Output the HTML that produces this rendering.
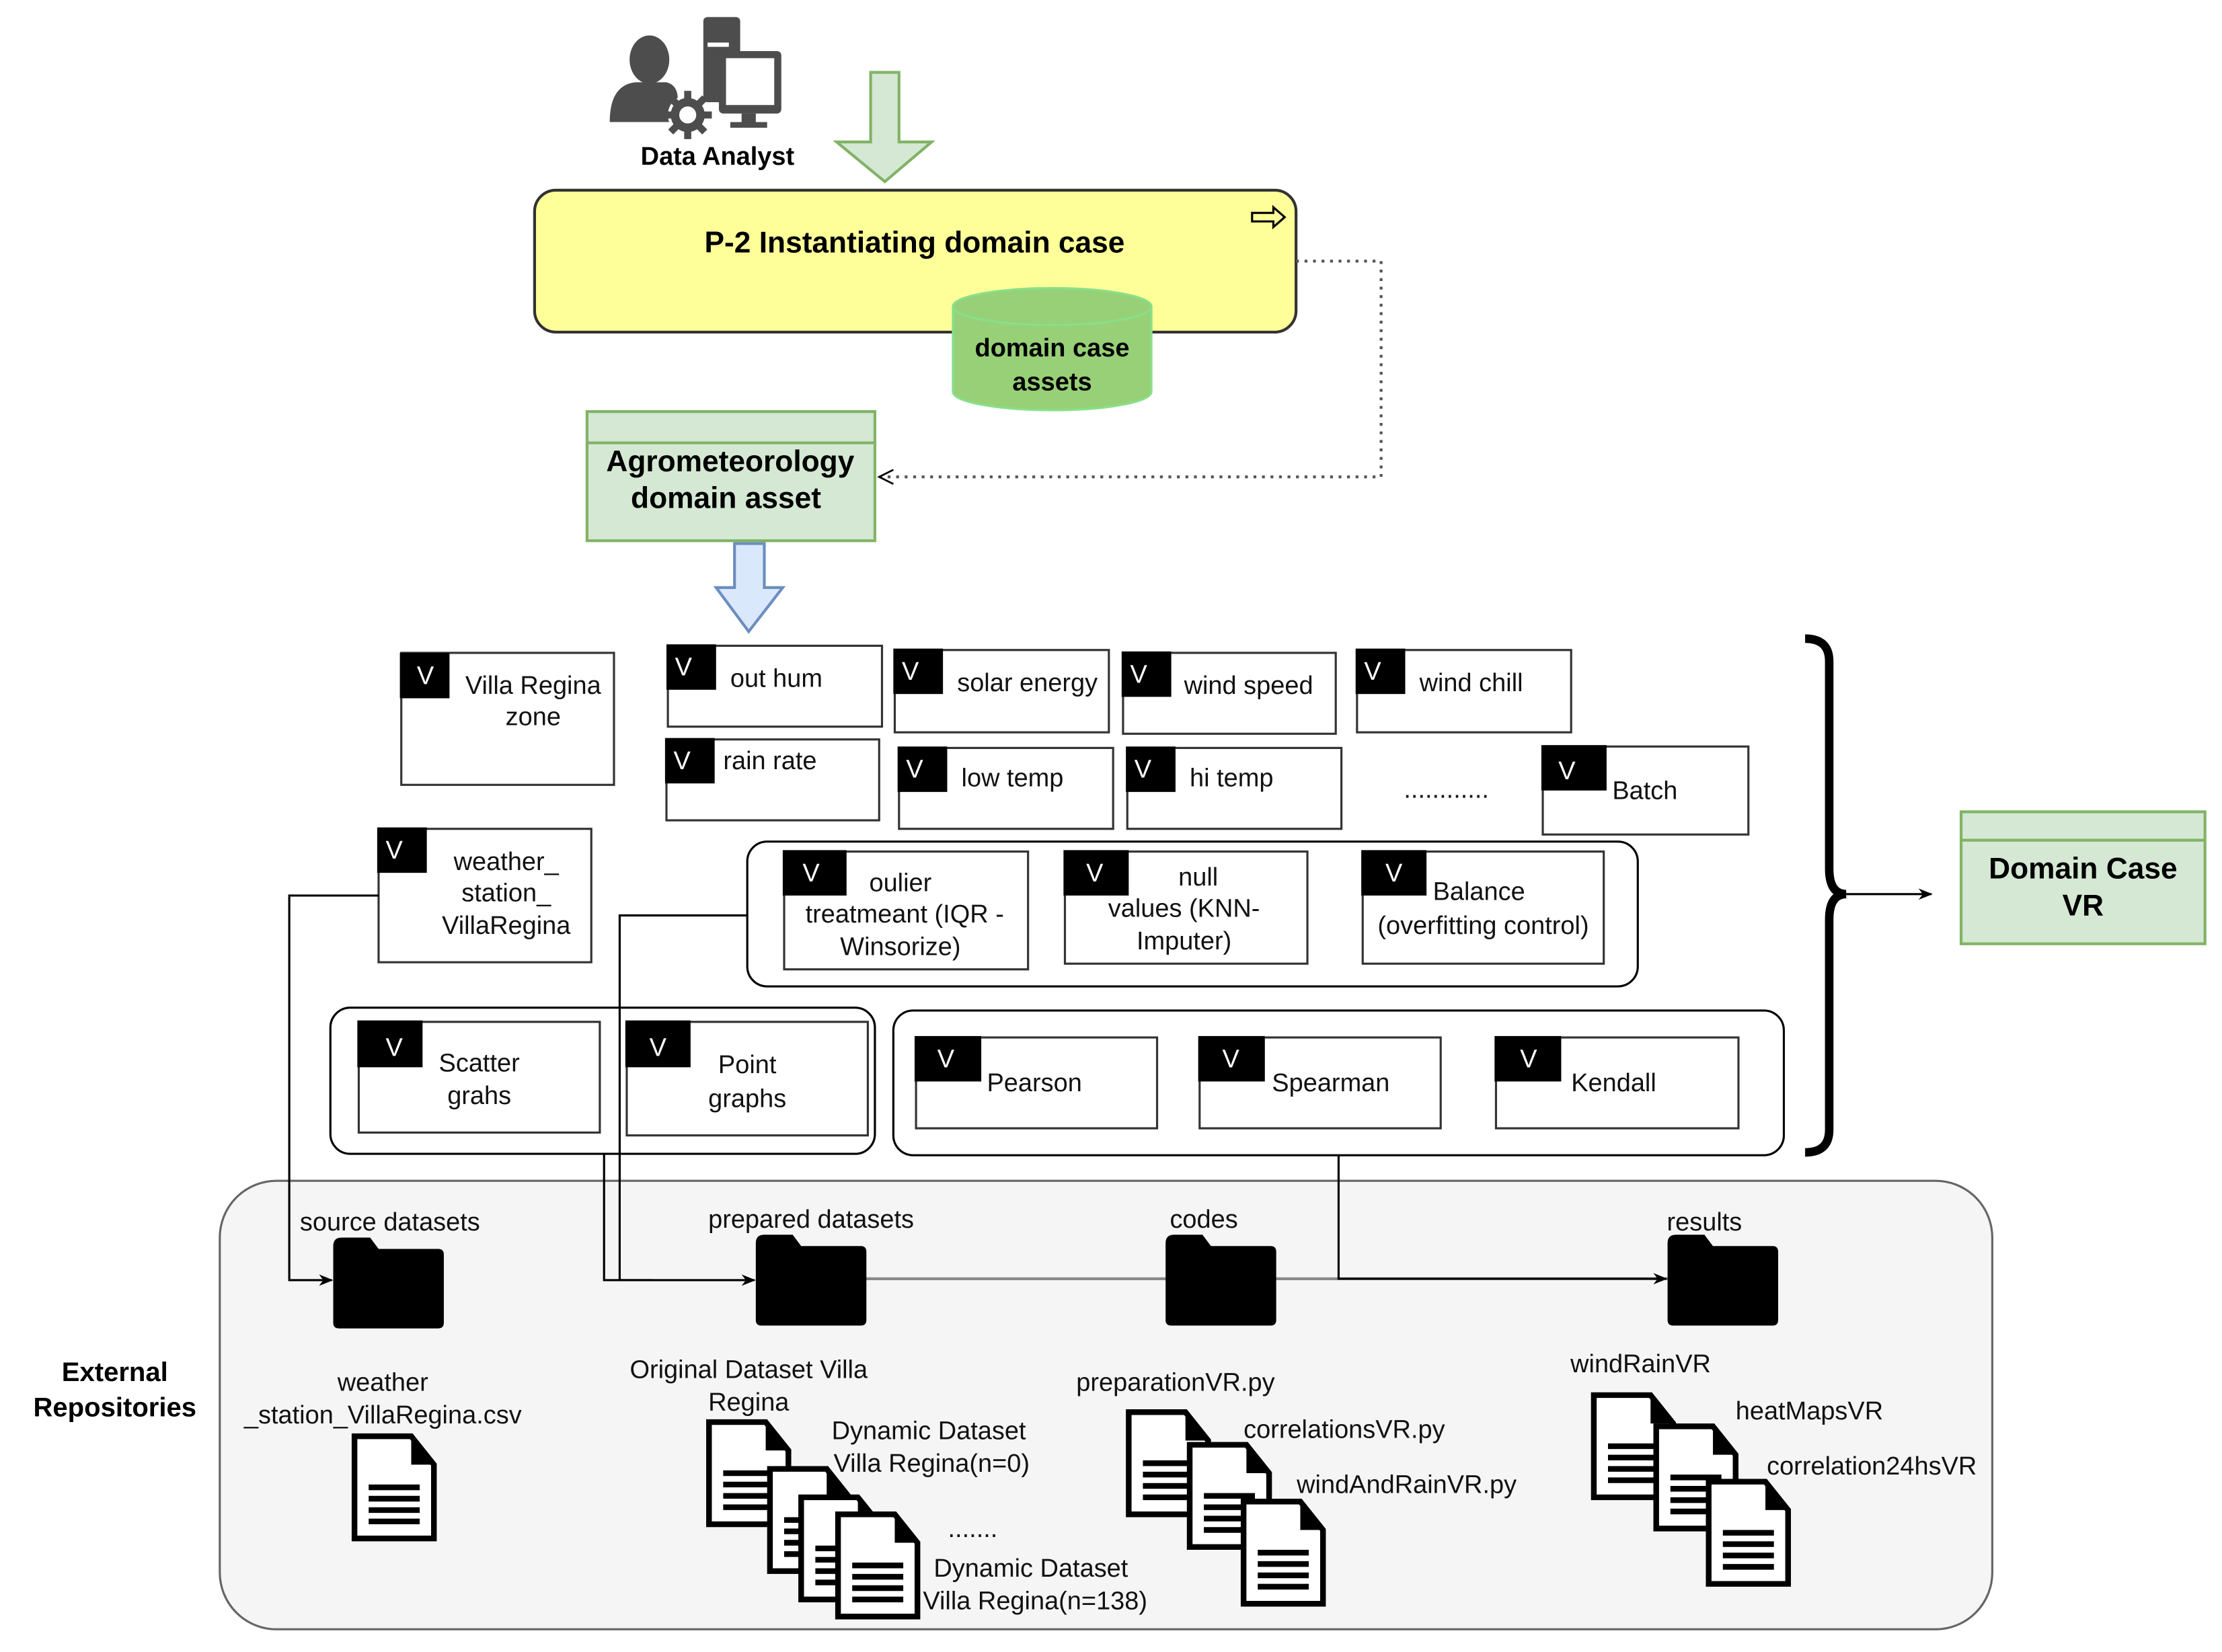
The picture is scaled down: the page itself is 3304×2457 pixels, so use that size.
<!DOCTYPE html>
<html><head><meta charset="utf-8"><style>html,body{margin:0;padding:0;background:#fff}svg{display:block}text{font-family:"Liberation Sans",sans-serif}</style></head><body>
<svg width="3304" height="2457" viewBox="0 0 1567 1164" preserveAspectRatio="none" xmlns="http://www.w3.org/2000/svg">
<defs>
<symbol id="doc" viewBox="0 0 60 76" overflow="visible">
<path d="M2,2 H42 L58,22 V74 H2 Z" fill="#fff" stroke="#000" stroke-width="4"/>
<path d="M42,2 L58,22 H42 Z" fill="#000"/>
<g stroke="#000" stroke-width="4"><line x1="12" y1="38" x2="48" y2="38"/><line x1="12" y1="46" x2="48" y2="46"/><line x1="12" y1="54" x2="48" y2="54"/><line x1="12" y1="62" x2="48" y2="62"/></g>
</symbol>
<symbol id="folder" viewBox="0 0 78 66" overflow="visible">
<path d="M0,8 Q0,2 6,2 H26 L32,10 H74 Q78,10 78,14 V62 Q78,66 74,66 H4 Q0,66 0,62 Z" fill="#000"/>
</symbol>
<marker id="ar" markerWidth="10" markerHeight="10" refX="9" refY="5" orient="auto" markerUnits="userSpaceOnUse"><path d="M0,1 L10,5 L0,9 L3,5 Z" fill="#000"/></marker>
</defs>

<g fill="#4d4d4d">
<ellipse cx="458" cy="42" rx="14" ry="17"/>
<path d="M430,86 Q430,60 448,58 H470 Q478,60 478,70 V86 Z"/>
<rect x="496" y="12" width="26" height="60" rx="3"/>
<rect x="507" y="36" width="44" height="44" rx="3"/>
<rect x="512" y="41" width="34" height="33" fill="#fff"/>
<rect x="523" y="80" width="10" height="7"/><rect x="515" y="86" width="26" height="4"/>
<circle cx="485" cy="81" r="14" fill="#fff"/>
<g stroke="#4d4d4d" stroke-width="5">
<line x1="485" y1="64" x2="485" y2="98"/><line x1="468" y1="81" x2="502" y2="81"/>
<line x1="473" y1="69" x2="497" y2="93"/><line x1="497" y1="69" x2="473" y2="93"/>
</g>
<circle cx="485" cy="81" r="12"/>
<circle cx="485" cy="81" r="6" fill="#fff"/>
</g>
<rect x="499" y="30" width="15" height="3" fill="#fff"/>
<text x="506" y="116" font-size="18" font-weight="bold" text-anchor="middle">Data Analyst</text>

<path d="M614,51 H634 V100 H657 L624,128 L590,100 H614 Z" fill="#d5e8d4" stroke="#82b366" stroke-width="2"/>

<rect x="377" y="134" width="537" height="100" rx="15" fill="#ffff99" stroke="#333" stroke-width="2"/>
<text x="645" y="178" font-size="21" font-weight="bold" text-anchor="middle">P-2 Instantiating domain case</text>
<path d="M883,150 H898 V146 L906,153 L898,160 V156 H883 Z" fill="#ffff99" stroke="#000" stroke-width="1.5"/>

<path d="M672,216 V276 A70,13 0 0 0 812,276 V216" fill="#97d077" stroke="#88e088" stroke-width="1.5"/>
<ellipse cx="742" cy="216" rx="70" ry="13" fill="#97d077" stroke="#88e088" stroke-width="1.5"/>
<text x="742" y="251" font-size="18" font-weight="bold" text-anchor="middle">domain case</text>
<text x="742" y="275" font-size="18" font-weight="bold" text-anchor="middle">assets</text>

<rect x="414" y="290" width="203" height="91" fill="#d5e8d4" stroke="#82b366" stroke-width="2"/>
<line x1="414" y1="312" x2="617" y2="312" stroke="#82b366" stroke-width="2"/>
<text x="515" y="332" font-size="21" font-weight="bold" text-anchor="middle">Agrometeorology</text>
<text x="512" y="358" font-size="21" font-weight="bold" text-anchor="middle">domain asset</text>

<path d="M914,184 H974 V336 H621" fill="none" stroke="#555" stroke-width="2" stroke-dasharray="2,4"/>
<path d="M630,331 L620,336 L630,341" fill="none" stroke="#000" stroke-width="1.3"/>

<path d="M518,383 H539 V414 H552 L528,445 L505,414 H518 Z" fill="#dae8fc" stroke="#6c8ebf" stroke-width="2"/>

<rect x="527" y="593" width="628" height="102" rx="14" fill="#fff" stroke="#000" stroke-width="1.5"/>
<rect x="233" y="710" width="384" height="103" rx="14" fill="#fff" stroke="#000" stroke-width="1.5"/>
<rect x="630" y="712" width="628" height="102" rx="14" fill="#fff" stroke="#000" stroke-width="1.5"/>

<g font-size="18">
<g fill="#fff" stroke="#333" stroke-width="1.5">
<rect x="283" y="460" width="150" height="93"/>
<rect x="471" y="455" width="151" height="57"/>
<rect x="470" y="521" width="150" height="57"/>
<rect x="631" y="458" width="151" height="58"/>
<rect x="792" y="460" width="150" height="57"/>
<rect x="957" y="458" width="151" height="58"/>
<rect x="634" y="527" width="151" height="57"/>
<rect x="795" y="527" width="151" height="57"/>
<rect x="1088" y="526" width="145" height="62"/>
<rect x="267" y="584" width="150" height="94"/>
<rect x="553" y="600" width="172" height="83"/>
<rect x="751" y="600" width="171" height="79"/>
<rect x="961" y="600" width="170" height="79"/>
<rect x="253" y="720" width="170" height="78"/>
<rect x="442" y="720" width="170" height="80"/>
<rect x="646" y="731" width="170" height="64"/>
<rect x="846" y="731" width="170" height="64"/>
<rect x="1055" y="731" width="171" height="64"/>
</g>
<g fill="#000">
<rect x="282" y="460" width="35" height="32"/>
<rect x="470" y="454" width="35" height="32"/>
<rect x="469" y="520" width="35" height="32"/>
<rect x="630" y="457" width="35" height="32"/>
<rect x="791" y="459" width="35" height="32"/>
<rect x="956" y="457" width="35" height="32"/>
<rect x="633" y="526" width="35" height="32"/>
<rect x="794" y="526" width="35" height="32"/>
<rect x="1087" y="525" width="46" height="32"/>
<rect x="266" y="583" width="35" height="32"/>
<rect x="552" y="599" width="45" height="32"/>
<rect x="750" y="599" width="46" height="32"/>
<rect x="960" y="599" width="46" height="32"/>
<rect x="252" y="719" width="46" height="33"/>
<rect x="441" y="719" width="46" height="33"/>
<rect x="645" y="730" width="47" height="32"/>
<rect x="845" y="730" width="47" height="32"/>
<rect x="1054" y="730" width="47" height="32"/>
</g>
<g fill="#fff">
<text x="294" y="482">V</text><text x="476" y="476">V</text><text x="475" y="542">V</text>
<text x="636" y="479">V</text><text x="797" y="481">V</text><text x="962" y="479">V</text>
<text x="639" y="548">V</text><text x="800" y="548">V</text><text x="1099" y="549">V</text>
<text x="272" y="605">V</text><text x="566" y="621">V</text><text x="766" y="621">V</text>
<text x="977" y="621">V</text><text x="272" y="744">V</text><text x="458" y="744">V</text>
<text x="661" y="752">V</text><text x="862" y="752">V</text><text x="1072" y="752">V</text>
</g>
<g fill="#111">
<text x="376" y="489" text-anchor="middle">Villa Regina</text><text x="376" y="511" text-anchor="middle">zone</text>
<text x="515" y="484">out hum</text>
<text x="510" y="542">rain rate</text>
<text x="675" y="487">solar energy</text>
<text x="835" y="489">wind speed</text>
<text x="1001" y="487">wind chill</text>
<text x="678" y="554">low temp</text>
<text x="839" y="554">hi temp</text>
<text x="1020" y="562" text-anchor="middle">............</text>
<text x="1137" y="563">Batch</text>
<text x="357" y="613" text-anchor="middle">weather_</text><text x="357" y="635" text-anchor="middle">station_</text><text x="357" y="658" text-anchor="middle">VillaRegina</text>
<text x="635" y="628" text-anchor="middle">oulier</text><text x="638" y="650" text-anchor="middle">treatmeant (IQR -</text><text x="635" y="673" text-anchor="middle">Winsorize)</text>
<text x="845" y="624" text-anchor="middle">null</text><text x="835" y="646" text-anchor="middle">values (KNN-</text><text x="835" y="669" text-anchor="middle">Imputer)</text>
<text x="1043" y="634" text-anchor="middle">Balance</text><text x="1046" y="658" text-anchor="middle">(overfitting control)</text>
<text x="338" y="755" text-anchor="middle">Scatter</text><text x="338" y="778" text-anchor="middle">grahs</text>
<text x="527" y="756" text-anchor="middle">Point</text><text x="527" y="780" text-anchor="middle">graphs</text>
<text x="696" y="769">Pearson</text>
<text x="897" y="769">Spearman</text>
<text x="1108" y="769">Kendall</text>
</g>
</g>

<path d="M1273,450 Q1290,450 1290,466 V612 Q1290,630 1302,630 Q1290,630 1290,648 V796 Q1290,812 1273,812" fill="none" stroke="#000" stroke-width="6"/>
<line x1="1302" y1="630" x2="1362" y2="630" stroke="#000" stroke-width="1.5" marker-end="url(#ar)"/>

<rect x="1383" y="572" width="172" height="93" fill="#d5e8d4" stroke="#82b366" stroke-width="2"/>
<line x1="1383" y1="592" x2="1555" y2="592" stroke="#82b366" stroke-width="2"/>
<text x="1469" y="619" font-size="21" font-weight="bold" text-anchor="middle">Domain Case</text>
<text x="1469" y="645" font-size="21" font-weight="bold" text-anchor="middle">VR</text>

<rect x="155" y="832" width="1250" height="316" rx="40" fill="#f5f5f5" stroke="#666" stroke-width="1.5"/>
<text x="81" y="973" font-size="19" font-weight="bold" text-anchor="middle">External</text>
<text x="81" y="998" font-size="19" font-weight="bold" text-anchor="middle">Repositories</text>

<line x1="610" y1="901" x2="1176" y2="901" stroke="#888" stroke-width="2"/>

<g fill="none" stroke="#000" stroke-width="1.5">
<path d="M267,631 H204 V902 H234" marker-end="url(#ar)"/>
<path d="M527,645 H437 V902 H532" marker-end="url(#ar)"/>
<path d="M426,813 V902 H460"/>
<path d="M944,814 V901 H1175" marker-end="url(#ar)"/>
</g>

<use href="#folder" x="235" y="870" width="78" height="66"/>
<use href="#folder" x="533" y="868" width="78" height="66"/>
<use href="#folder" x="822" y="868" width="78" height="66"/>
<use href="#folder" x="1176" y="868" width="78" height="66"/>

<g font-size="18" fill="#111">
<text x="275" y="867" text-anchor="middle">source datasets</text>
<text x="572" y="865" text-anchor="middle">prepared datasets</text>
<text x="849" y="865" text-anchor="middle">codes</text>
<text x="1202" y="867" text-anchor="middle">results</text>
<text x="270" y="980" text-anchor="middle">weather</text>
<text x="270" y="1003" text-anchor="middle">_station_VillaRegina.csv</text>
<text x="528" y="971" text-anchor="middle">Original Dataset Villa</text>
<text x="528" y="994" text-anchor="middle">Regina</text>
<text x="655" y="1014" text-anchor="middle">Dynamic Dataset</text>
<text x="657" y="1037" text-anchor="middle">Villa Regina(n=0)</text>
<text x="686" y="1083" text-anchor="middle">.......</text>
<text x="727" y="1111" text-anchor="middle">Dynamic Dataset</text>
<text x="730" y="1134" text-anchor="middle">Villa Regina(n=138)</text>
<text x="829" y="980" text-anchor="middle">preparationVR.py</text>
<text x="948" y="1013" text-anchor="middle">correlationsVR.py</text>
<text x="992" y="1052" text-anchor="middle">windAndRainVR.py</text>
<text x="1157" y="967" text-anchor="middle">windRainVR</text>
<text x="1276" y="1000" text-anchor="middle">heatMapsVR</text>
<text x="1320" y="1039" text-anchor="middle">correlation24hsVR</text>
</g>

<use href="#doc" x="248" y="1010" width="60" height="76"/>
<use href="#doc" x="498" y="1000" width="60" height="76"/>
<use href="#doc" x="541" y="1033" width="60" height="76"/>
<use href="#doc" x="563" y="1053" width="60" height="76"/>
<use href="#doc" x="589" y="1065" width="60" height="76"/>
<use href="#doc" x="794" y="993" width="60" height="76"/>
<use href="#doc" x="837" y="1016" width="60" height="76"/>
<use href="#doc" x="875" y="1056" width="60" height="76"/>
<use href="#doc" x="1122" y="981" width="60" height="76"/>
<use href="#doc" x="1166" y="1003" width="60" height="76"/>
<use href="#doc" x="1203" y="1042" width="60" height="76"/>
</svg>
</body></html>
